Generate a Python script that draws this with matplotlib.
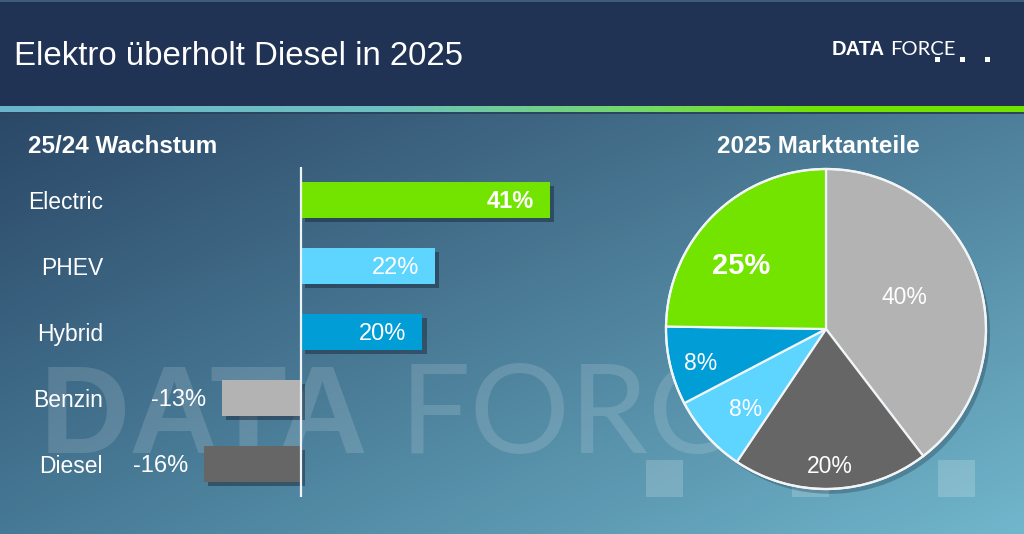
import numpy as np
import matplotlib
matplotlib.use("Agg")
import matplotlib.pyplot as plt
import matplotlib.patheffects as pe
from matplotlib.patches import Rectangle, Circle
from matplotlib.colors import to_rgb

plt.rcParams['font.family'] = ['Liberation Sans', 'DejaVu Sans']

# data
title = 'Elektro überholt Diesel in 2025'
growth_title = '25/24 Wachstum'
share_title = '2025 Marktanteile'
categories = ['Electric', 'PHEV', 'Hybrid', 'Benzin', 'Diesel']
growth = [41, 22, 20, -13, -16]
growth_colors = ['#72e400', '#5dd5ff', '#009dd6', '#b3b3b3', '#666666']

share_names = ['Benzin', 'Diesel', 'PHEV', 'Hybrid', 'Electric']
shares = [40, 20, 8, 8, 25]
share_colors = ['#b3b3b3', '#666666', '#5dd5ff', '#009dd6', '#72e400']

W, H = 1024, 534
fig = plt.figure(figsize=(W / 100, H / 100), dpi=100)

# background picture
img = np.zeros((H, W, 3))
xs = np.linspace(0, 1, W)[None, :, None]
ys = np.linspace(0, 1, H - 113)[:, None, None]
tl, tr = np.array(to_rgb('#2b4867')), np.array(to_rgb('#4e7f9a'))
bl, br = np.array(to_rgb('#467995')), np.array(to_rgb('#71b7cc'))
img[113:] = (tl * (1 - xs) * (1 - ys) + tr * xs * (1 - ys)
             + bl * (1 - xs) * ys + br * xs * ys)
img[:106] = to_rgb('#203354')
img[:2] = to_rgb('#3c5c7a')
stops_x = [0, 380, 640, 820, 1024]
stops_c = [to_rgb(c) for c in ['#6ab5cc', '#6ec0c0', '#74d86a', '#72e400', '#72e400']]
xx = np.arange(W)
strip = np.stack([np.interp(xx, stops_x, [c[i] for c in stops_c]) for i in range(3)], axis=1)
img[106:112] = strip[None, :, :]
img[112:114] = to_rgb('#2a4560')

bg = fig.add_axes([0, 0, 1, 1])
bg.imshow(img, extent=(0, W, H, 0), aspect='auto', interpolation='bilinear')
bg.set_xlim(0, W)
bg.set_ylim(H, 0)
bg.axis('off')

# watermark
wm = dict(color='white', alpha=0.14, fontsize=90, va='baseline')
bg.text(40, 453, 'DATA', fontweight='bold', **wm)
bg.text(400, 453, 'FORCE', family=['Lato', 'DejaVu Sans'], fontweight='normal', **wm)
for x0 in [646, 792, 938]:
    bg.add_patch(Rectangle((x0, 460), 37, 37, color='white', alpha=0.18, lw=0))

# header
bg.text(14, 65, title, color='white', fontsize=23.8, va='baseline')
bg.text(832, 55, 'DATA', color='white', fontsize=14.5, fontweight='bold', va='baseline')
bg.text(890, 55, 'FORCE', color='white', fontsize=14.5, va='baseline',
        family=['Lato', 'DejaVu Sans'])
for x0 in [935, 960, 985]:
    bg.add_patch(Rectangle((x0, 57), 5, 5, color='white', lw=0))

bg.text(28, 153, growth_title, color='white', fontsize=17.5, fontweight='bold', va='baseline')
bg.text(818, 153, share_title, color='white', fontsize=17.5, fontweight='bold',
        va='baseline', ha='center')

# bar chart
px = 6.07  # pixels per percent
left, right, top, bottom = 120, 600, 167, 497
ax = fig.add_axes([left / W, (H - bottom) / H, (right - left) / W, (bottom - top) / H])
ax.set_facecolor('none')
ax.set_xlim(-(301 - left) / px, (right - 301) / px)
ax.set_ylim(4.5, -0.5)
ypos = np.arange(len(categories))
bars = ax.barh(ypos, growth, height=0.55, color=growth_colors, zorder=3)
for b in bars:
    b.set_path_effects([pe.withSimplePatchShadow(offset=(3, -3), shadow_rgbFace='#142030', alpha=0.45),
                        pe.Normal()])
ax.axvline(0, color='#eef3f6', lw=1.6, zorder=4)
ax.set_yticks(ypos)
ax.set_yticklabels(categories, color='white', fontsize=16.5)
ax.tick_params(axis='y', length=0, pad=(left - 103) * 0.72)
ax.set_xticks([])
for s in ax.spines.values():
    s.set_visible(False)

for i, v in enumerate(growth):
    if v > 0:
        ax.text(v - 2.6, i + 0.03, f'{v}%', color='white', fontsize=17, ha='right', va='center',
                fontweight='bold' if i == 0 else 'normal', zorder=5)
    else:
        ax.text(v - 2.6, i + 0.03, f'{v}%', color='white', fontsize=17, ha='right', va='center', zorder=5)

# pie chart
cx, cy, r = 826, 329, 160
pad = 12
pax = fig.add_axes([(cx - r - pad) / W, (H - cy - r - pad) / H, (2 * r + 2 * pad) / W, (2 * r + 2 * pad) / H])
shadow = Circle((0.025, -0.03), 1.0, color='#1a2c40', alpha=0.3, lw=0)
pax.add_patch(shadow)
wedges, _ = pax.pie(shares, colors=share_colors, startangle=90, counterclock=False,
                    radius=1, wedgeprops=dict(edgecolor='#f2f5f7', linewidth=1.6))
pax.add_patch(Circle((0, 0), 1.0, fill=False, ec='#f2f5f7', lw=1.6))
lim = 1 + pad / r
pax.set_xlim(-lim, lim)
pax.set_ylim(-lim, lim)
pax.set_aspect('equal')
pax.axis('off')
lab_r = [0.53, 0.86, 0.71, 0.81, 0.66]
lab_shift = [3, 0, 3, 2, 9]
for w, v, rr, sh, name in zip(wedges, shares, lab_r, lab_shift, share_names):
    a = np.deg2rad((w.theta1 + w.theta2) / 2 + sh)
    big = name == 'Electric'
    pax.text(rr * np.cos(a), rr * np.sin(a), f'{v}%', color='white', ha='center', va='center',
             fontsize=21 if big else 16.5, fontweight='bold' if big else 'normal')

fig.savefig('out.png', dpi=100)
